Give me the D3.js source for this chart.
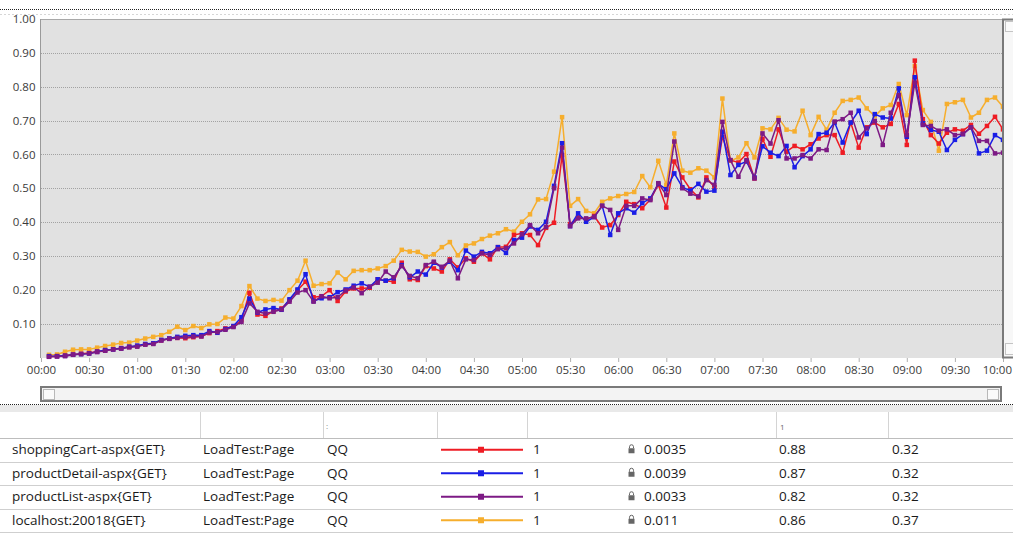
<!DOCTYPE html>
<html>
<head>
<meta charset="utf-8">
<script src="https://cdn.jsdelivr.net/npm/d3@7"></script>
<style>
body { margin: 0; background: #fff; overflow: hidden; }
svg { display: block; font-family: "Open Sans", "Noto Sans", sans-serif; }
</style>
</head>
<body>
<svg id="chart" width="1013" height="533"></svg>
<script>
(function() {
"use strict";

// sample times, minutes after start (one sample every 5 minutes)
var MINUTES = d3.range(5, 605, 5);

var SHOPPINGCART = [
    0.003, 0.004, 0.006, 0.009, 0.011, 0.013, 0.018, 0.021, 0.024, 0.028,
    0.031, 0.034, 0.039, 0.041, 0.051, 0.056, 0.058, 0.057, 0.060, 0.063,
    0.072, 0.078, 0.086, 0.092, 0.110, 0.191, 0.127, 0.123, 0.137, 0.145,
    0.170, 0.199, 0.224, 0.178, 0.181, 0.199, 0.167, 0.195, 0.204, 0.204,
    0.206, 0.231, 0.227, 0.224, 0.280, 0.231, 0.229, 0.270, 0.263, 0.254,
    0.290, 0.266, 0.293, 0.283, 0.308, 0.290, 0.326, 0.327, 0.362, 0.367,
    0.362, 0.332, 0.383, 0.398, 0.598, 0.394, 0.415, 0.408, 0.418, 0.384,
    0.391, 0.421, 0.460, 0.453, 0.441, 0.467, 0.510, 0.443, 0.579, 0.532,
    0.497, 0.473, 0.532, 0.503, 0.652, 0.583, 0.576, 0.601, 0.529, 0.646,
    0.593, 0.674, 0.608, 0.625, 0.615, 0.630, 0.647, 0.657, 0.657, 0.605,
    0.694, 0.620, 0.680, 0.694, 0.680, 0.690, 0.749, 0.628, 0.877, 0.704,
    0.657, 0.632, 0.664, 0.674, 0.670, 0.687, 0.661, 0.684, 0.711, 0.674
];
var PRODUCTDETAIL = [
    0.004, 0.004, 0.005, 0.008, 0.010, 0.012, 0.017, 0.022, 0.024, 0.027,
    0.032, 0.035, 0.040, 0.042, 0.052, 0.056, 0.061, 0.064, 0.066, 0.066,
    0.078, 0.073, 0.084, 0.093, 0.119, 0.174, 0.133, 0.142, 0.146, 0.141,
    0.172, 0.201, 0.246, 0.167, 0.175, 0.178, 0.193, 0.201, 0.212, 0.219,
    0.209, 0.231, 0.227, 0.234, 0.273, 0.237, 0.254, 0.245, 0.280, 0.266,
    0.283, 0.258, 0.316, 0.298, 0.312, 0.308, 0.326, 0.309, 0.347, 0.354,
    0.387, 0.377, 0.401, 0.507, 0.633, 0.388, 0.426, 0.401, 0.415, 0.448,
    0.362, 0.426, 0.441, 0.428, 0.456, 0.470, 0.513, 0.497, 0.544, 0.503,
    0.493, 0.513, 0.490, 0.493, 0.667, 0.539, 0.569, 0.579, 0.532, 0.624,
    0.605, 0.595, 0.625, 0.562, 0.595, 0.615, 0.660, 0.664, 0.694, 0.635,
    0.694, 0.729, 0.660, 0.719, 0.709, 0.706, 0.795, 0.652, 0.828, 0.692,
    0.672, 0.667, 0.613, 0.643, 0.660, 0.680, 0.603, 0.611, 0.657, 0.643
];
var PRODUCTLIST = [
    0.002, 0.003, 0.004, 0.008, 0.010, 0.012, 0.016, 0.020, 0.024, 0.026,
    0.030, 0.032, 0.038, 0.040, 0.050, 0.055, 0.058, 0.060, 0.062, 0.062,
    0.074, 0.075, 0.082, 0.090, 0.105, 0.160, 0.135, 0.130, 0.135, 0.142,
    0.165, 0.192, 0.199, 0.165, 0.181, 0.175, 0.178, 0.198, 0.207, 0.190,
    0.209, 0.221, 0.254, 0.237, 0.270, 0.241, 0.234, 0.273, 0.283, 0.268,
    0.286, 0.234, 0.290, 0.288, 0.308, 0.303, 0.320, 0.323, 0.337, 0.364,
    0.391, 0.367, 0.386, 0.500, 0.620, 0.388, 0.411, 0.411, 0.415, 0.448,
    0.436, 0.377, 0.448, 0.448, 0.470, 0.465, 0.515, 0.480, 0.638, 0.500,
    0.484, 0.476, 0.524, 0.510, 0.696, 0.583, 0.534, 0.583, 0.529, 0.662,
    0.632, 0.701, 0.588, 0.588, 0.598, 0.588, 0.615, 0.613, 0.697, 0.704,
    0.723, 0.650, 0.677, 0.699, 0.628, 0.723, 0.775, 0.657, 0.812, 0.687,
    0.684, 0.670, 0.674, 0.657, 0.660, 0.680, 0.640, 0.640, 0.603, 0.605
];
var LOCALHOST = [
    0.008, 0.009, 0.017, 0.023, 0.024, 0.024, 0.029, 0.034, 0.038, 0.043,
    0.044, 0.050, 0.056, 0.061, 0.066, 0.076, 0.091, 0.081, 0.093, 0.087,
    0.098, 0.099, 0.118, 0.115, 0.152, 0.211, 0.174, 0.167, 0.170, 0.168,
    0.199, 0.227, 0.286, 0.212, 0.217, 0.219, 0.251, 0.231, 0.256, 0.258,
    0.258, 0.263, 0.270, 0.286, 0.318, 0.313, 0.312, 0.298, 0.305, 0.326,
    0.341, 0.302, 0.331, 0.337, 0.350, 0.360, 0.367, 0.379, 0.372, 0.401,
    0.423, 0.467, 0.468, 0.549, 0.710, 0.448, 0.468, 0.433, 0.426, 0.460,
    0.470, 0.477, 0.483, 0.489, 0.536, 0.503, 0.581, 0.510, 0.662, 0.552,
    0.546, 0.559, 0.552, 0.532, 0.765, 0.581, 0.591, 0.633, 0.591, 0.677,
    0.674, 0.708, 0.673, 0.668, 0.729, 0.657, 0.711, 0.673, 0.723, 0.758,
    0.761, 0.768, 0.736, 0.713, 0.736, 0.746, 0.808, 0.716, 0.861, 0.731,
    0.696, 0.611, 0.749, 0.754, 0.761, 0.709, 0.723, 0.761, 0.768, 0.741
];

var SERIES_NAMES = ["shoppingCart-aspx{GET}", "productDetail-aspx{GET}", "productList-aspx{GET}", "localhost:20018{GET}"];
var SERIES_CATEGORY = ["LoadTest:Page", "LoadTest:Page", "LoadTest:Page", "LoadTest:Page"];
var SERIES_COMPUTER = ["QQ", "QQ", "QQ", "QQ"];
var SERIES_SCALE = ["1", "1", "1", "1"];
var SERIES_MIN = ["0.0035", "0.0039", "0.0033", "0.011"];
var SERIES_MAX = ["0.88", "0.87", "0.82", "0.86"];
var SERIES_AVG = ["0.32", "0.32", "0.32", "0.37"];
var SERIES_VALUES = [SHOPPINGCART, PRODUCTDETAIL, PRODUCTLIST, LOCALHOST];

var X_TICKS = ["00:00", "00:30", "01:00", "01:30", "02:00", "02:30", "03:00", "03:30", "04:00", "04:30",
               "05:00", "05:30", "06:00", "06:30", "07:00", "07:30", "08:00", "08:30", "09:00", "09:30", "10:00"];
var Y_TICKS = [0.10, 0.20, 0.30, 0.40, 0.50, 0.60, 0.70, 0.80, 0.90, 1.00];

var COLORS = ["#ee1c24", "#1a1ee6", "#7d1a85", "#f6ae2d"];
var DRAW_ORDER = [3, 0, 1, 2];

var W = 1013;
var plot = {left: 41, right: 1002, top: 19, bottom: 358};

var svg = d3.select("#chart");

var tomin = function(s) {
    var p = s.split(":");
    return +p[0] * 60 + +p[1];
};

var x = d3.scaleLinear().domain([0, 600]).range([41, 1003]);
var y = d3.scaleLinear().domain([0, 1]).range([357.5, 19]);

// frame above the chart
svg.append("line")
    .attr("x1", 0).attr("x2", W).attr("y1", 9.5).attr("y2", 9.5)
    .attr("stroke", "#222").attr("stroke-dasharray", "1,1");
svg.append("line")
    .attr("x1", 0).attr("x2", W).attr("y1", 14.5).attr("y2", 14.5)
    .attr("stroke", "#d6d6d6").attr("stroke-dasharray", "2,2");

// plot background
svg.append("rect")
    .attr("x", plot.left).attr("y", plot.top)
    .attr("width", plot.right - plot.left).attr("height", plot.bottom - plot.top)
    .attr("fill", "#e1e1e1");

svg.append("g").selectAll("line")
    .data(Y_TICKS)
    .enter().append("line")
        .attr("x1", plot.left).attr("x2", plot.right)
        .attr("y1", function(d) { return Math.round(y(d)) + 0.5; })
        .attr("y2", function(d) { return Math.round(y(d)) + 0.5; })
        .attr("stroke", function(d) { return d === 1 ? "#a8a8a8" : "#a2a2a2"; })
        .attr("stroke-dasharray", function(d) { return d === 1 ? null : "1,1"; });

var gy = svg.append("g")
    .attr("transform", "translate(" + (plot.left - 0.5) + ",0)")
    .call(d3.axisLeft(y).tickValues(Y_TICKS).tickFormat(d3.format(".2f")).tickSize(0).tickPadding(5));
gy.select(".domain").attr("stroke", "#9a9a9a").attr("d", "M0," + plot.top + "V" + plot.bottom);
gy.selectAll("text").attr("fill", "#3a3a3a").attr("font-size", "11.5px").attr("font-family", "\"Open Sans\", sans-serif");

var gx = svg.append("g")
    .attr("transform", "translate(0," + plot.bottom + ")")
    .call(d3.axisBottom(x)
        .tickValues(X_TICKS.map(tomin))
        .tickFormat(function(d, i) { return X_TICKS[i]; })
        .tickSize(4).tickPadding(4));
gx.select(".domain").remove();
gx.selectAll("line").attr("stroke", "#b0b0b0");
gx.selectAll("text").attr("fill", "#3a3a3a").attr("font-size", "11.5px").attr("font-family", "\"Open Sans\", sans-serif");
// last label sits against the window edge
gx.selectAll("text").filter(function(d, i) { return i === X_TICKS.length - 1; })
    .attr("text-anchor", "end").attr("dx", "8.5");

// series
var gplot = svg.append("g");
var line = d3.line()
    .x(function(d, i) { return x(MINUTES[i]); })
    .y(function(d) { return y(d); });

DRAW_ORDER.forEach(function(k) {
    var vals = SERIES_VALUES[k];
    gplot.append("path")
        .datum(vals)
        .attr("fill", "none")
        .attr("stroke", COLORS[k])
        .attr("stroke-width", 1.5)
        .attr("stroke-linejoin", "round")
        .attr("d", line);
    gplot.append("g").selectAll("rect")
        .data(vals)
        .enter().append("rect")
            .attr("x", function(d, i) { return x(MINUTES[i]) - 2.25; })
            .attr("y", function(d) { return y(d) - 2.25; })
            .attr("width", 4.5).attr("height", 4.5)
            .attr("fill", COLORS[k]);
});

// vertical scrollbar on the right
var vs = svg.append("g");
vs.append("rect").attr("x", 1003).attr("y", 19.5).attr("width", 12).attr("height", 338)
    .attr("fill", "#f7f7f7").attr("stroke", "#7a7a7a").attr("stroke-width", 2);
vs.append("rect").attr("x", 1005.5).attr("y", 21.5).attr("width", 10).attr("height", 10)
    .attr("fill", "#fafafa").attr("stroke", "#c4c4c4");
vs.append("rect").attr("x", 1005.5).attr("y", 343.5).attr("width", 10).attr("height", 11)
    .attr("fill", "#fafafa").attr("stroke", "#c4c4c4");

// horizontal scrollbar
var hs = svg.append("g");
hs.append("rect").attr("x", 41).attr("y", 387).attr("width", 960).attr("height", 14)
    .attr("fill", "#f3f3f3").attr("stroke", "#7a7a7a").attr("stroke-width", 2);
hs.append("rect").attr("x", 43.5).attr("y", 389.5).attr("width", 11).attr("height", 10)
    .attr("fill", "#fafafa").attr("stroke", "#b8b8b8");
hs.append("rect").attr("x", 987.5).attr("y", 389.5).attr("width", 11).attr("height", 10)
    .attr("fill", "#fafafa").attr("stroke", "#b8b8b8");

// table under the chart
svg.append("line")
    .attr("x1", 0).attr("x2", W).attr("y1", 404.5).attr("y2", 404.5)
    .attr("stroke", "#222").attr("stroke-dasharray", "1,1");
svg.append("rect").attr("x", 0).attr("y", 405).attr("width", W).attr("height", 7).attr("fill", "#e9e9e9");

var COLSEP = [200, 323, 437, 527, 776, 888];
svg.append("g").selectAll("line")
    .data(COLSEP)
    .enter().append("line")
        .attr("x1", function(d) { return d + 0.5; }).attr("x2", function(d) { return d + 0.5; })
        .attr("y1", 412).attr("y2", 438)
        .attr("stroke", "#d4d4d4");
svg.append("text").attr("x", 326).attr("y", 429).attr("font-size", "8px").attr("fill", "#888").text(":");
svg.append("text").attr("x", 780).attr("y", 430).attr("font-size", "8px").attr("fill", "#666").text("1");

var ROWTOP = 438, ROWH = 23.5;
var rowlines = d3.range(SERIES_NAMES.length + 1);
svg.append("g").selectAll("line")
    .data(rowlines)
    .enter().append("line")
        .attr("x1", 0).attr("x2", W)
        .attr("y1", function(d) { return Math.round(ROWTOP + d * ROWH) + 0.5; })
        .attr("y2", function(d) { return Math.round(ROWTOP + d * ROWH) + 0.5; })
        .attr("stroke", function(d) { return d === 0 ? "#bdbdbd" : "#cfcfcf"; });

var rows = svg.append("g").selectAll("g")
    .data(SERIES_NAMES)
    .enter().append("g")
        .attr("transform", function(d, i) { return "translate(0," + (ROWTOP + i * ROWH + ROWH / 2) + ")"; })
        .attr("font-size", "13.5px")
        .attr("fill", "#1a1a1a");

var cell = function(xpos, arr) {
    rows.append("text")
        .attr("x", xpos).attr("dy", "0.35em")
        .text(function(d, i) { return arr[i]; });
};
cell(12, SERIES_NAMES);
cell(203, SERIES_CATEGORY);
cell(327, SERIES_COMPUTER);
cell(533, SERIES_SCALE);
cell(644, SERIES_MIN);
cell(779, SERIES_MAX);
cell(892, SERIES_AVG);

rows.append("line")
    .attr("x1", 441).attr("x2", 523).attr("y1", 0).attr("y2", 0)
    .attr("stroke", function(d, i) { return COLORS[i]; })
    .attr("stroke-width", 2);
rows.append("rect")
    .attr("x", 478).attr("y", -3).attr("width", 6).attr("height", 6)
    .attr("fill", function(d, i) { return COLORS[i]; });

// small lock glyph before the minimum
rows.append("path")
    .attr("d", "M629.5,-1.5 v-1.5 a2,2 0 0 1 4,0 v1.5")
    .attr("fill", "none").attr("stroke", "#666").attr("stroke-width", 1);
rows.append("rect")
    .attr("x", 628.5).attr("y", -1.5).attr("width", 6).attr("height", 5)
    .attr("fill", "#666");

}());
</script>
</body>
</html>
